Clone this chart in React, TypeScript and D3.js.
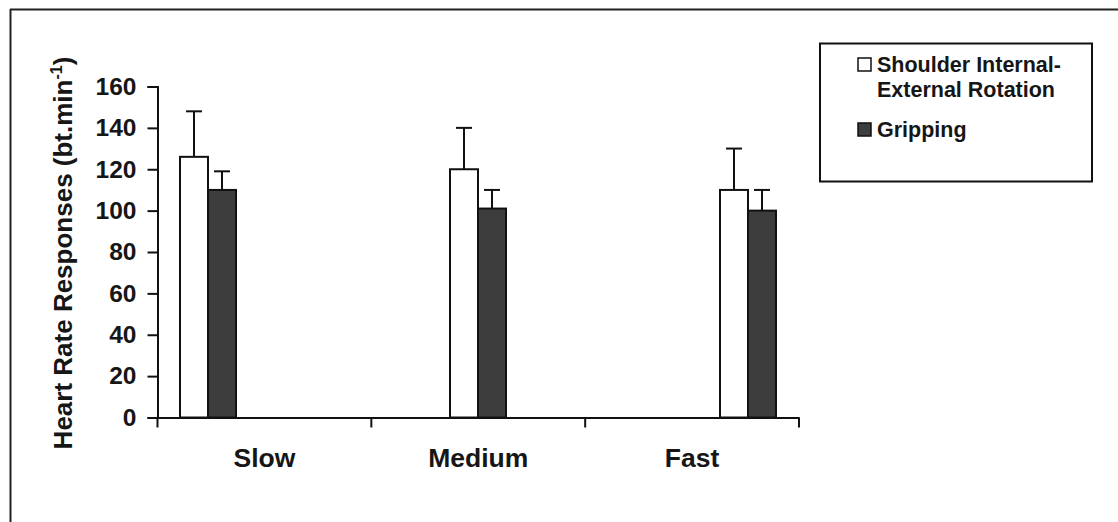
import React, { useEffect, useRef } from 'react';
import * as d3 from 'd3';

const categories = ['Slow', 'Medium', 'Fast'];
const seriesNames = ['Shoulder Internal-External Rotation', 'Gripping'];
const shoulderMean = [126, 120, 110];
const shoulderErr = [22, 20, 20];
const grippingMean = [110, 101, 100];
const grippingErr = [9, 9, 10];
const yTicks = [0, 20, 40, 60, 80, 100, 120, 140, 160];

const App = () => {
  const ref = useRef<SVGSVGElement>(null);

  useEffect(() => {
    const svg = d3.select(ref.current);
    svg.selectAll('*').remove();

    const W = 1118;
    const H = 522;
    const font = '"Liberation Sans", Arial, sans-serif';

    svg.append('rect').attr('width', W).attr('height', H).attr('fill', '#fff');

    // outer frame (top + left only visible)
    svg.append('line').attr('x1', 10).attr('x2', W).attr('y1', 9.5).attr('y2', 9.5)
      .attr('stroke', '#222').attr('stroke-width', 2);
    svg.append('line').attr('x1', 10.5).attr('x2', 10.5).attr('y1', 9).attr('y2', H)
      .attr('stroke', '#222').attr('stroke-width', 2);

    const y = d3.scaleLinear().domain([0, 160]).range([417.5, 86.5]);
    const xAxisScale = d3.scaleBand().domain(categories).range([157.5, 799]);
    const xGroup = d3.scalePoint().domain(categories).range([208, 748]);
    const barW = 28;

    // y axis
    const gy = svg.append('g').attr('transform', 'translate(157.5,0)')
      .call(d3.axisLeft(y).tickValues(yTicks).tickSize(10).tickPadding(11));
    gy.select('.domain').attr('stroke', '#111').attr('stroke-width', 2);
    gy.selectAll('.tick line').attr('stroke', '#111').attr('stroke-width', 2);
    gy.selectAll('.tick text')
      .attr('font-family', font).attr('font-size', 24.5).attr('font-weight', 'bold').attr('fill', '#161616');

    // x axis
    const gx = svg.append('g').attr('transform', `translate(0,${y(0)})`)
      .call(d3.axisBottom(xAxisScale).tickSize(0).tickPadding(0).tickFormat(() => ''));
    gx.select('.domain').attr('stroke', '#111').attr('stroke-width', 2);
    const tickXs = [...categories.map((c) => xAxisScale(c) as number), 799];
    gx.selectAll('line.sep').data(tickXs).enter().append('line')
      .attr('class', 'sep')
      .attr('x1', (d) => d).attr('x2', (d) => d).attr('y1', 0).attr('y2', 10)
      .attr('stroke', '#111').attr('stroke-width', 2);

    svg.selectAll('text.cat').data(categories).enter().append('text')
      .attr('class', 'cat')
      .attr('x', (d) => (xAxisScale(d) as number) + xAxisScale.bandwidth() / 2)
      .attr('y', 467)
      .attr('text-anchor', 'middle')
      .attr('font-family', font).attr('font-size', 26.5).attr('font-weight', 'bold').attr('fill', '#161616')
      .text((d) => d);

    // y title
    const title = svg.append('text')
      .attr('transform', 'translate(72,253) rotate(-90)')
      .attr('text-anchor', 'middle')
      .attr('font-family', font).attr('font-size', 26).attr('font-weight', 'bold').attr('fill', '#161616');
    title.append('tspan').text('Heart Rate Responses (bt.min');
    title.append('tspan').attr('dy', -10).attr('font-size', 16).text('-1');
    title.append('tspan').attr('dy', 10).text(')');

    const series = [
      { mean: shoulderMean, err: shoulderErr, fill: '#ffffff', offset: -barW },
      { mean: grippingMean, err: grippingErr, fill: '#3d3d3d', offset: 0 },
    ];

    series.forEach((s) => {
      const g = svg.append('g');
      const rows = categories.map((c, i) => ({ c, m: s.mean[i], e: s.err[i] }));
      g.selectAll('rect').data(rows).enter().append('rect')
        .attr('x', (d) => (xGroup(d.c) as number) + s.offset)
        .attr('y', (d) => y(d.m))
        .attr('width', barW)
        .attr('height', (d) => y(0) - y(d.m))
        .attr('fill', s.fill).attr('stroke', '#111').attr('stroke-width', 2);
      const cx = (d: any) => (xGroup(d.c) as number) + s.offset + barW / 2;
      g.selectAll('line.err').data(rows).enter().append('line')
        .attr('class', 'err')
        .attr('x1', cx).attr('x2', cx)
        .attr('y1', (d) => y(d.m)).attr('y2', (d) => y(d.m + d.e))
        .attr('stroke', '#111').attr('stroke-width', 2);
      g.selectAll('line.cap').data(rows).enter().append('line')
        .attr('class', 'cap')
        .attr('x1', (d) => cx(d) - 8).attr('x2', (d) => cx(d) + 8)
        .attr('y1', (d) => y(d.m + d.e)).attr('y2', (d) => y(d.m + d.e))
        .attr('stroke', '#111').attr('stroke-width', 2);
    });

    // legend
    const lg = svg.append('g');
    lg.append('rect').attr('x', 820).attr('y', 43.5).attr('width', 272).attr('height', 138)
      .attr('fill', '#fff').attr('stroke', '#111').attr('stroke-width', 2);
    const legendItems = [
      { lines: ['Shoulder Internal-', 'External Rotation'], fill: '#ffffff', y: 72 },
      { lines: ['Gripping'], fill: '#3d3d3d', y: 137 },
    ];
    legendItems.forEach((it, i) => {
      lg.append('rect').attr('x', 858).attr('y', it.y - 14).attr('width', 13).attr('height', 13)
        .attr('fill', it.fill).attr('stroke', '#111').attr('stroke-width', 1.5);
      const t = lg.append('text')
        .attr('font-family', font).attr('font-size', 21.5).attr('font-weight', 'bold').attr('fill', '#161616')
        .attr('aria-label', seriesNames[i]);
      it.lines.forEach((ln, k) => {
        t.append('tspan').attr('x', 877).attr('y', it.y + k * 25).text(ln);
      });
    });
  }, []);

  return <svg ref={ref} width={1118} height={522} style={{ display: 'block', position: 'absolute', left: 0, top: 0 }} />;
};

export default App;
